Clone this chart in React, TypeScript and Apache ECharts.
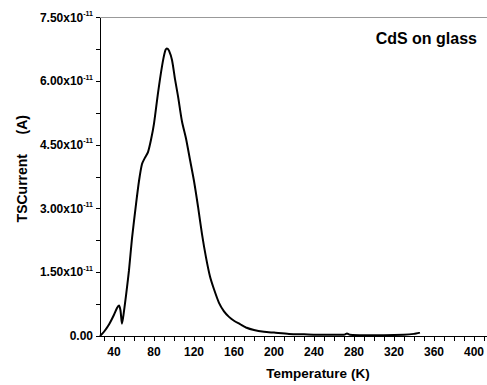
import React, { useEffect, useRef } from "react";
import * as echarts from "echarts";

// Temperature (K)
const temperature = [26, 30, 35, 40, 43, 45, 46.5, 48, 49.5, 52, 55, 58, 62, 65, 68, 71, 74, 77, 80, 84, 88, 91, 93, 95, 98, 101, 104, 108, 112, 116, 120, 124, 128, 132, 136, 140, 145, 150, 155, 160, 166, 172, 180, 190, 200, 215, 230, 250, 270, 273, 276, 290, 310, 330, 340, 346];
// TSCurrent in units of 1e-11 A
const current = [0, 0.1, 0.27, 0.5, 0.66, 0.72, 0.6, 0.29, 0.5, 0.95, 1.55, 2.3, 3.1, 3.65, 4.05, 4.2, 4.33, 4.62, 5.0, 5.72, 6.35, 6.7, 6.77, 6.72, 6.5, 6.05, 5.65, 5.05, 4.65, 4.15, 3.65, 3.05, 2.4, 1.85, 1.4, 1.1, 0.78, 0.58, 0.45, 0.36, 0.28, 0.2, 0.14, 0.1, 0.08, 0.05, 0.04, 0.03, 0.03, 0.06, 0.03, 0.02, 0.02, 0.03, 0.05, 0.08];

const xTicks = [30, 40, 50, 60, 70, 80, 90, 100, 110, 120, 130, 140, 150, 160, 170, 180, 190, 200, 210, 220, 230, 240, 250, 260, 270, 280, 290, 300, 310, 320, 330, 340, 350, 360, 370, 380, 390, 400, 410];
const xLabels = [40, 80, 120, 160, 200, 240, 280, 320, 360, 400];

const FONT = "'Liberation Sans', Arial, sans-serif";

export default function App() {
  const ref = useRef<HTMLDivElement>(null);
  useEffect(() => {
    if (!ref.current) return;
    const chart = echarts.init(ref.current, null, { renderer: "svg" });
    const data = temperature.map((t, i) => [t, current[i]]);
    chart.setOption({
      animation: false,
      backgroundColor: "#ffffff",
      textStyle: { fontFamily: FONT },
      title: {
        text: "CdS on glass",
        right: 5,
        top: 25,
        textStyle: { fontFamily: FONT, fontSize: 16, fontWeight: "bold", color: "#000" },
      },
      grid: { left: 100, right: 0, top: 17.5, bottom: 38, containLabel: false },
      xAxis: [
        {
          type: "value",
          min: 26,
          max: 413,
          name: "Temperature (K)",
          nameLocation: "middle",
          nameGap: 30,
          nameTextStyle: { fontFamily: FONT, fontSize: 13.5, fontWeight: "bold", color: "#000", padding: [0, 0, 0, 49] },
          axisLine: { lineStyle: { color: "#000", width: 1 } },
          axisTick: { show: true, length: 5, inside: false, customValues: xTicks, lineStyle: { color: "#000" } },
          axisLabel: { customValues: xLabels, margin: 10, fontFamily: FONT, fontSize: 12, fontWeight: "bold", color: "#000" },
          splitLine: { show: false },
        },
        {
          type: "value",
          position: "top",
          min: 26,
          max: 413,
          axisLine: { show: true, lineStyle: { color: "#999", width: 1 } },
          axisTick: { show: false },
          axisLabel: { show: false },
          splitLine: { show: false },
        },
      ],
      yAxis: {
        type: "value",
        min: 0,
        max: 7.5,
        interval: 1.5,
        name: "TSCurrent     (A)",
        nameLocation: "middle",
        nameGap: 68,
        nameTextStyle: { fontFamily: FONT, fontSize: 14, fontWeight: "bold", color: "#000", padding: [0, 0, 0, 16] },
        axisLine: { show: true, lineStyle: { color: "#000", width: 1 } },
        axisTick: { show: true, length: 4, lineStyle: { color: "#000" } },
        minorTick: { show: true, splitNumber: 2, length: 4, lineStyle: { color: "#000" } },
        splitLine: { show: false },
        axisLabel: {
          margin: 7,
          formatter: (v: number) => (v === 0 ? "{a|0.00}" : `{a|${v.toFixed(2)}x10}{s|-11}`),
          rich: {
            a: { fontFamily: FONT, fontSize: 12, fontWeight: "bold", color: "#000" },
            s: { fontFamily: FONT, fontSize: 7, fontWeight: "bold", color: "#000", padding: [0, 0, 8, 0] },
          },
        },
      },
      series: [
        {
          type: "line",
          data,
          xAxisIndex: 0,
          smooth: 0.25,
          showSymbol: false,
          symbol: "none",
          lineStyle: { color: "#000", width: 2 },
        },
      ],
    });
    return () => chart.dispose();
  }, []);
  return <div ref={ref} style={{ position: "fixed", left: 0, top: 0, width: 487, height: 385 }} />;
}
